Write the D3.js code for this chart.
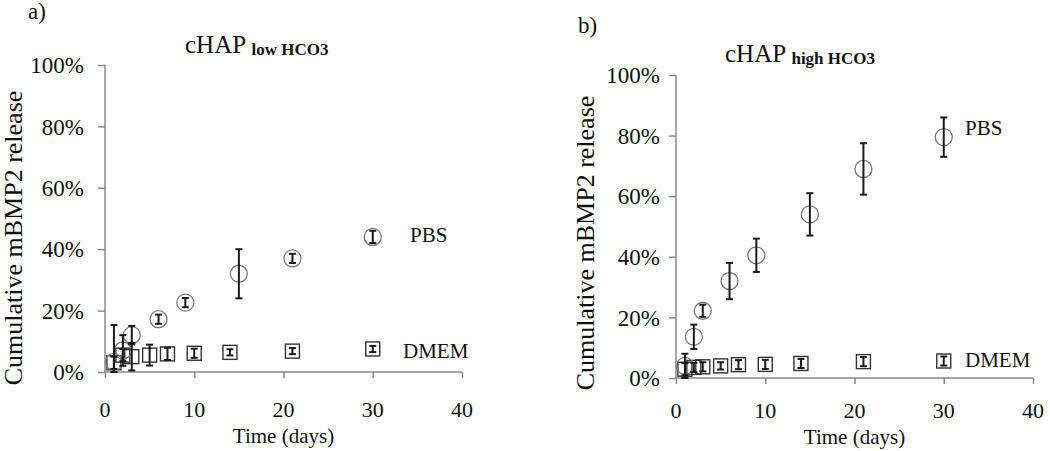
<!DOCTYPE html>
<html>
<head>
<meta charset="utf-8">
<script src="https://cdn.jsdelivr.net/npm/d3@7"></script>
<style>
  body { margin: 0; background: #fff; }
  text { fill: #111; }
</style>
</head>
<body>
<script>
// sampling days
var pbsDays = [1, 2, 3, 6, 9, 15, 21, 30];
var dmemDays = [1, 2, 3, 5, 7, 10, 14, 21, 30];

// panel a) cHAP low HCO3  (% released, +/- error)
var lowPbs = [3.3, 7, 12, 17.2, 22.6, 32, 37, 44];
var lowPbsErr = [12, 5, 3, 1.5, 1.5, 8, 1.5, 2];
var lowDmem = [3, 5.5, 5, 5.5, 5.9, 6.1, 6.4, 6.8, 7.5];
var lowDmemErr = [2, 2, 4.5, 3.4, 2, 1.5, 1, 1, 1];

// panel b) cHAP high HCO3
var highPbs = [4, 13.6, 22.2, 32, 40.5, 54, 69, 79.5];
var highPbsErr = [4, 4, 2, 6, 5.5, 7, 8.5, 6.5];
var highDmem = [2.9, 3.5, 3.7, 4, 4.4, 4.5, 4.8, 5.4, 5.6];
var highDmemErr = [2, 1.5, 1.5, 1.2, 1.5, 1.5, 1.5, 1.5, 1.5];

var xTicks = [0, 10, 20, 30, 40];
var yTicks = [0, 20, 40, 60, 80, 100];

var SERIF = "'Liberation Serif', 'Times New Roman', serif";

var svg = d3.select("body").append("svg")
    .attr("width", 1050)
    .attr("height", 451);

function zip(days, vals, errs) {
    return days.map(function(d, i) { return {day: d, v: vals[i], e: errs[i]}; });
}

function label(sel, size) {
    return sel.style("font-family", SERIF).style("font-size", size + "px");
}

function panel(p) {
    var x = d3.scaleLinear().domain([0, 40]).range([p.left, p.right]);
    var y = d3.scaleLinear().domain([0, 100]).range([p.bottom, p.top]).clamp(true);
    var g = svg.append("g");

    // axes: ticks from d3, lines drawn plain
    var yAxis = d3.axisLeft(y).tickValues(yTicks).tickSize(7).tickFormat("");
    g.append("g").attr("transform", "translate(" + p.left + ",0)").call(yAxis);
    var xAxis = d3.axisBottom(x).tickValues(xTicks).tickSize(6).tickFormat("");
    g.append("g").attr("transform", "translate(0," + p.bottom + ")").call(xAxis);
    g.selectAll(".tick line").attr("stroke", "#8a8a8a").attr("stroke-width", 1.5);
    g.selectAll(".domain").remove();
    g.append("line").attr("x1", p.left).attr("x2", p.left).attr("y1", y(100)).attr("y2", p.bottom)
        .attr("stroke", "#8a8a8a").attr("stroke-width", 1.5);
    g.append("line").attr("x1", p.left).attr("x2", x(40)).attr("y1", p.bottom).attr("y2", p.bottom)
        .attr("stroke", "#8a8a8a").attr("stroke-width", 1.5);

    label(g.selectAll(".ylab").data(yTicks).enter().append("text"), 23)
        .attr("x", p.left - p.yLabGap)
        .attr("y", function(d) { return y(d); })
        .attr("dy", "0.36em")
        .attr("text-anchor", "end")
        .text(function(d) { return d + "%"; });

    label(g.selectAll(".xlab").data(xTicks).enter().append("text"), 22)
        .attr("x", function(d) { return x(d); })
        .attr("y", p.xLabY)
        .attr("text-anchor", "middle")
        .text(function(d) { return d; });

    label(g.append("text"), 21)
        .attr("x", (p.left + p.right) / 2)
        .attr("y", p.xLabY + 26)
        .attr("text-anchor", "middle")
        .text("Time (days)");

    label(g.append("text"), 26)
        .attr("transform", "translate(" + p.yTitleX + "," + p.yTitleY + ") rotate(-90)")
        .attr("text-anchor", "middle")
        .text("Cumulative mBMP2 release");

    // title with subscript
    var t = label(g.append("text"), 25).attr("x", p.titleX).attr("y", p.titleY);
    t.append("tspan").text("cHAP ");
    t.append("tspan").attr("dy", 2).style("font-size", "17px").style("font-weight", "bold").text(p.sub);

    label(g.append("text"), 23).attr("x", p.tagX).attr("y", p.tagY).text(p.tag);

    var dmem = zip(dmemDays, p.dmem, p.dmemErr);
    var pbs = zip(pbsDays, p.pbs, p.pbsErr);

    // markers
    g.selectAll(".sq").data(dmem).enter().append("rect")
        .attr("x", function(d) { return x(d.day) - 7; })
        .attr("y", function(d) { return y(d.v) - 7; })
        .attr("width", 14).attr("height", 14)
        .attr("fill", "none").attr("stroke", "#333").attr("stroke-width", 1.4);
    g.selectAll(".ci").data(pbs).enter().append("circle")
        .attr("cx", function(d) { return x(d.day); })
        .attr("cy", function(d) { return y(d.v); })
        .attr("r", 8.5)
        .attr("fill", "none").attr("stroke", "#7a7a7a").attr("stroke-width", 1.3);

    // error bars
    var all = dmem.concat(pbs);
    var eb = g.selectAll(".eb").data(all).enter().append("g").attr("stroke", "#1a1a1a").attr("stroke-width", 2);
    eb.append("line")
        .attr("x1", function(d) { return x(d.day); }).attr("x2", function(d) { return x(d.day); })
        .attr("y1", function(d) { return y(d.v - d.e); }).attr("y2", function(d) { return y(d.v + d.e); });
    eb.append("line")
        .attr("x1", function(d) { return x(d.day) - 3.5; }).attr("x2", function(d) { return x(d.day) + 3.5; })
        .attr("y1", function(d) { return y(d.v + d.e); }).attr("y2", function(d) { return y(d.v + d.e); });
    eb.append("line")
        .attr("x1", function(d) { return x(d.day) - 3.5; }).attr("x2", function(d) { return x(d.day) + 3.5; })
        .attr("y1", function(d) { return y(d.v - d.e); }).attr("y2", function(d) { return y(d.v - d.e); });

    // series labels
    label(g.append("text"), 21).attr("x", p.pbsLab[0]).attr("y", p.pbsLab[1]).text("PBS");
    label(g.append("text"), 21).attr("x", p.dmemLab[0]).attr("y", p.dmemLab[1]).text("DMEM");
}

panel({
    left: 105, right: 462, top: 65, bottom: 372,
    yLabGap: 21, xLabY: 417, yTitleX: 22, yTitleY: 238,
    titleX: 185, titleY: 53, sub: "low HCO3", tag: "a)", tagX: 28, tagY: 19,
    pbs: lowPbs, pbsErr: lowPbsErr, dmem: lowDmem, dmemErr: lowDmemErr,
    pbsLab: [410, 242], dmemLab: [403, 358]
});

panel({
    left: 676, right: 1033, top: 75, bottom: 378,
    yLabGap: 16, xLabY: 418, yTitleX: 594, yTitleY: 243,
    titleX: 725, titleY: 62, sub: "high HCO3", tag: "b)", tagX: 578, tagY: 33,
    pbs: highPbs, pbsErr: highPbsErr, dmem: highDmem, dmemErr: highDmemErr,
    pbsLab: [965, 135], dmemLab: [965, 367]
});
</script>
</body>
</html>
